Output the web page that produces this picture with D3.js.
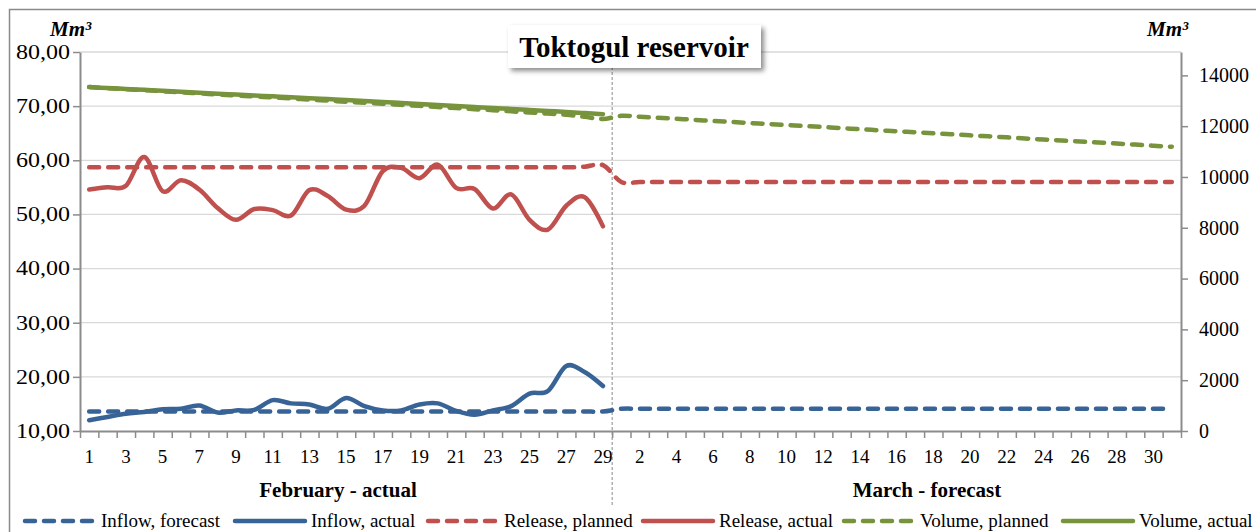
<!DOCTYPE html>
<html>
<head>
<meta charset="utf-8">
<script src="https://cdn.jsdelivr.net/npm/d3@7"></script>
<style>
  body { margin: 0; background: #fff; }
  svg { display: block; font-family: "Liberation Serif", "Times New Roman", serif; }
</style>
</head>
<body>
<div id="chart"></div>
<script>
// categories
const febDays = [1,2,3,4,5,6,7,8,9,10,11,12,13,14,15,16,17,18,19,20,21,22,23,24,25,26,27,28,29]
const marDays = [1,2,3,4,5,6,7,8,9,10,11,12,13,14,15,16,17,18,19,20,21,22,23,24,25,26,27,28,29,30,31]

// left axis (Mm3 per day)
const inflowForecastFeb = [13.6,13.6,13.6,13.6,13.6,13.6,13.6,13.6,13.6,13.6,13.6,13.6,13.6,13.6,13.6,13.6,13.6,13.6,13.6,13.6,13.6,13.6,13.6,13.6,13.6,13.6,13.6,13.6,13.6]
const inflowForecastMar = [14.1,14.1,14.1,14.1,14.1,14.1,14.1,14.1,14.1,14.1,14.1,14.1,14.1,14.1,14.1,14.1,14.1,14.1,14.1,14.1,14.1,14.1,14.1,14.1,14.1,14.1,14.1,14.1,14.1,14.1,14.1]
const inflowActual = [12.0,12.6,13.2,13.5,14.0,14.1,14.7,13.4,13.8,13.9,15.7,15.1,14.9,14.1,16.1,14.6,13.8,13.8,14.9,15.1,13.7,13.0,13.8,14.6,16.9,17.4,22.0,20.9,18.3]
const releasePlannedFeb = [58.7,58.7,58.7,58.7,58.7,58.7,58.7,58.7,58.7,58.7,58.7,58.7,58.7,58.7,58.7,58.7,58.7,58.7,58.7,58.7,58.7,58.7,58.7,58.7,58.7,58.7,58.7,58.8,59.1]
const releasePlannedMar = [56.0,56.0,56.0,56.0,56.0,56.0,56.0,56.0,56.0,56.0,56.0,56.0,56.0,56.0,56.0,56.0,56.0,56.0,56.0,56.0,56.0,56.0,56.0,56.0,56.0,56.0,56.0,56.0,56.0,56.0,56.0]
const releaseActual = [54.6,55.0,55.3,60.6,54.3,56.3,54.6,51.2,49.0,51.0,50.8,49.8,54.5,53.4,50.9,51.6,58.0,58.6,56.7,59.2,54.9,54.7,51.1,53.7,49.0,47.2,51.6,53.2,47.8]

// right axis (Mm3 volume)
const volumePlannedFeb = [13540,13495,13455,13415,13375,13330,13290,13250,13210,13170,13130,13090,13045,13005,12965,12925,12880,12840,12800,12755,12715,12670,12630,12585,12540,12495,12450,12370,12280]
const volumePlannedMar = [12410,12370,12330,12290,12250,12205,12165,12125,12085,12045,12005,11965,11925,11880,11840,11800,11760,11720,11680,11640,11600,11560,11515,11475,11435,11395,11355,11315,11275,11230,11190]
const volumeActual = [13540,13500,13465,13430,13395,13355,13320,13280,13245,13210,13175,13140,13100,13065,13030,12990,12955,12915,12875,12835,12795,12755,12715,12680,12640,12600,12560,12515,12470]

const leftTicks = [10,20,30,40,50,60,70,80]
const rightTicks = [0,2000,4000,6000,8000,10000,12000,14000]
const seriesNames = ["Inflow, forecast","Inflow, actual","Release, planned","Release, actual","Volume, planned","Volume, actual"]

const width = 1256, height = 532
const plot = {left: 80, right: 1181, top: 52, bottom: 431}
const blue = "#386396", red = "#c0504d", green = "#77933c"
const axisGrey = "#8c8c8c"

const keys = febDays.map(d => "F" + d).concat(marDays.map(d => "M" + d))
const labelOf = {}
febDays.forEach(d => labelOf["F" + d] = d)
marDays.forEach(d => labelOf["M" + d] = d)

const x = d3.scaleBand().domain(keys).range([plot.left, plot.right])
const xc = k => x(k) + x.bandwidth() / 2
const xb = d3.scalePoint().domain(d3.range(keys.length + 1)).range([plot.left, plot.right])
const yL = d3.scaleLinear().domain([10, 80]).range([plot.bottom, plot.top])
const yR = d3.scaleLinear().domain([0, 14920]).range([plot.bottom, plot.top])

const svg = d3.select("#chart").append("svg")
  .attr("width", width).attr("height", height)

const defs = svg.append("defs")
const shadow = defs.append("filter").attr("id", "shadow")
  .attr("x", "-10%").attr("y", "-20%").attr("width", "130%").attr("height", "160%")
shadow.append("feDropShadow").attr("dx", 3).attr("dy", 3).attr("stdDeviation", 2.5)
  .attr("flood-color", "#000").attr("flood-opacity", 0.45)

// chart frame
svg.append("rect").attr("x", 9.5).attr("y", 9.5).attr("width", width + 20).attr("height", height + 20)
  .attr("fill", "none").attr("stroke", "#8a8a8a").attr("stroke-width", 1.5)

// gridlines
svg.append("g").selectAll("line").data(leftTicks.filter(d => d > 10)).join("line")
  .attr("x1", plot.left).attr("x2", plot.right)
  .attr("y1", d => yL(d)).attr("y2", d => yL(d))
  .attr("stroke", "#d9d9d9").attr("stroke-width", 1.3)

// divider between february and march
svg.append("line")
  .attr("x1", xb(febDays.length)).attr("x2", xb(febDays.length))
  .attr("y1", plot.top).attr("y2", 505)
  .attr("stroke", "#8a8a8a").attr("stroke-width", 1).attr("stroke-dasharray", "3,2")

// axes
const fmtL = d => d3.format(".2f")(d).replace(".", ",")
const gL = svg.append("g").attr("transform", `translate(${plot.left},0)`)
  .call(d3.axisLeft(yL).tickValues(leftTicks).tickFormat(fmtL).tickSize(7).tickSizeOuter(0).tickPadding(3))
const gR = svg.append("g").attr("transform", `translate(${plot.right},0)`)
  .call(d3.axisRight(yR).tickValues(rightTicks).tickFormat(d3.format("d")).tickSize(7).tickSizeOuter(0).tickPadding(11))
const gB = svg.append("g").attr("transform", `translate(0,${plot.bottom})`)
  .call(d3.axisBottom(xb).tickFormat("").tickSize(7).tickSizeOuter(0))
const gLab = svg.append("g").attr("transform", `translate(0,${plot.bottom})`)
  .call(d3.axisBottom(x).tickValues(keys.filter((k, i) => i % 2 === 0))
    .tickFormat(k => labelOf[k]).tickSize(0).tickPadding(19))

for (const g of [gL, gR, gB, gLab]) {
  g.select(".domain").attr("stroke", axisGrey).attr("stroke-width", 2)
  g.selectAll(".tick line").attr("stroke", axisGrey).attr("stroke-width", 1.5)
  g.selectAll("text").attr("fill", "#000").style("font-family", "Liberation Serif")
}
gLab.select(".domain").remove()
gL.selectAll("text").style("font-size", "20px")
  .each(function() {
    const w = this.getComputedTextLength()
    d3.select(this).attr("textLength", w * 1.2).attr("lengthAdjust", "spacingAndGlyphs")
  })
gR.selectAll("text").style("font-size", "20px")
gLab.selectAll("text").style("font-size", "19px")

// series
const line = d3.line().curve(d3.curveCardinal.tension(0))
function drawSeries(vals, yScale, color, dashed) {
  const pts = vals.map((v, i) => [xc(keys[i]), yScale(v)])
  svg.append("path").attr("d", line(pts))
    .attr("fill", "none").attr("stroke", color).attr("stroke-width", 4.5)
    .attr("stroke-linecap", "round").attr("stroke-linejoin", "round")
    .attr("stroke-dasharray", dashed ? "10,9" : null)
}
drawSeries(inflowForecastFeb.concat(inflowForecastMar), yL, blue, true)
drawSeries(inflowActual, yL, blue, false)
drawSeries(releasePlannedFeb.concat(releasePlannedMar), yL, red, true)
drawSeries(releaseActual, yL, red, false)
drawSeries(volumePlannedFeb.concat(volumePlannedMar), yR, green, true)
drawSeries(volumeActual, yR, green, false)

// units
svg.append("text").attr("x", 50).attr("y", 36).text("Mm³")
  .style("font-size", "21px").style("font-weight", "bold").style("font-style", "italic")
svg.append("text").attr("x", 1147).attr("y", 36).text("Mm³")
  .style("font-size", "21px").style("font-weight", "bold").style("font-style", "italic")

// month titles
svg.append("text").attr("x", 338).attr("y", 497).attr("text-anchor", "middle")
  .text("February - actual").style("font-size", "21px").style("font-weight", "bold")
svg.append("text").attr("x", 927).attr("y", 497).attr("text-anchor", "middle")
  .text("March - forecast").style("font-size", "21px").style("font-weight", "bold")

// title box
svg.append("rect").attr("x", 508).attr("y", 25).attr("width", 253).attr("height", 43)
  .attr("fill", "#fff").attr("filter", "url(#shadow)")
svg.append("text").attr("x", 634).attr("y", 57).attr("text-anchor", "middle")
  .text("Toktogul reservoir").style("font-size", "29px").style("font-weight", "bold")

// legend
const legendX = [25, 235, 428, 643, 844, 1063]
const legendColor = [blue, blue, red, red, green, green]
const lg = svg.append("g").selectAll("g").data(seriesNames).join("g")
  .attr("transform", (d, i) => `translate(${legendX[i]},521)`)
lg.append("line").attr("x1", 0).attr("x2", 70)
  .attr("stroke", (d, i) => legendColor[i]).attr("stroke-width", 4.5).attr("stroke-linecap", "round")
  .attr("stroke-dasharray", (d, i) => i % 2 === 0 ? "10,9" : null)
lg.append("text").attr("x", 76).attr("y", 6).text(d => d).style("font-size", "19px")
</script>
</body>
</html>
